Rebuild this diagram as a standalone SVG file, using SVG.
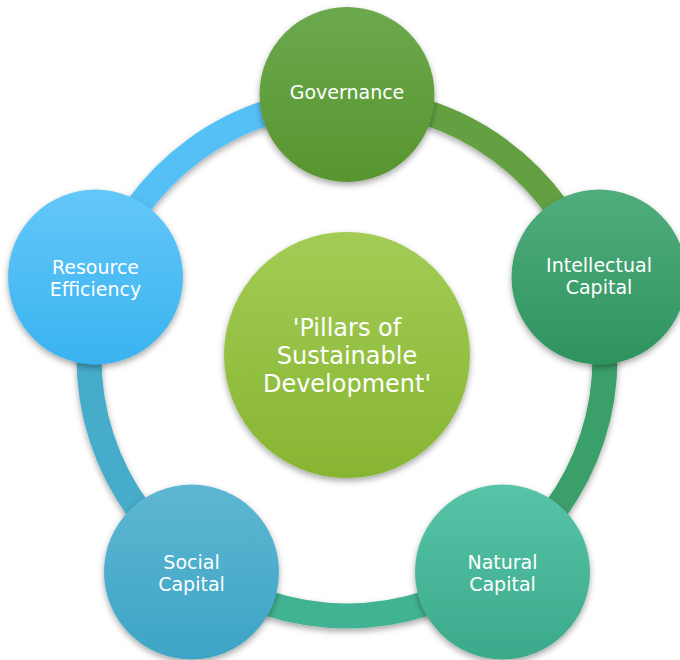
<svg xmlns="http://www.w3.org/2000/svg" width="680" height="660" viewBox="0 0 680 660">
<style>
.lbl{font-family:"DejaVu Sans","Liberation Sans",sans-serif;font-size:19px;fill:#ffffff;text-anchor:middle}
.big{font-size:24px}
.arc{fill:none;stroke-width:25}
</style>
<defs>
<filter id="sh" x="-20%" y="-20%" width="140%" height="150%">
<feDropShadow dx="0" dy="3" stdDeviation="3" flood-color="#000" flood-opacity="0.35"/>
</filter>
<linearGradient id="gGov" x1="0" y1="0" x2="0" y2="1"><stop offset="0" stop-color="#6ca94e"/><stop offset="1" stop-color="#58952f"/></linearGradient>
<linearGradient id="gInt" x1="0" y1="0" x2="0" y2="1"><stop offset="0" stop-color="#50ad7c"/><stop offset="1" stop-color="#2e935f"/></linearGradient>
<linearGradient id="gNat" x1="0" y1="0" x2="0" y2="1"><stop offset="0" stop-color="#57c4a7"/><stop offset="1" stop-color="#3ca98b"/></linearGradient>
<linearGradient id="gSoc" x1="0" y1="0" x2="0" y2="1"><stop offset="0" stop-color="#5eb7d2"/><stop offset="1" stop-color="#3da4c5"/></linearGradient>
<linearGradient id="gRes" x1="0" y1="0" x2="0" y2="1"><stop offset="0" stop-color="#64c7f9"/><stop offset="1" stop-color="#39b3ef"/></linearGradient>
<linearGradient id="gCen" x1="0" y1="0" x2="0" y2="1"><stop offset="0" stop-color="#a3cc55"/><stop offset="1" stop-color="#87b532"/></linearGradient>
</defs>
<rect width="680" height="660" fill="#ffffff"/>
<g id="connectors" filter="url(#sh)">
<path class="arc" stroke="#55c0f5" d="M 101.6 278.3 A 258 258 0 0 1 347 100"/>
<path class="arc" stroke="#63a043" d="M 347 100 A 258 258 0 0 1 592.4 278.3"/>
<path class="arc" stroke="#3a9f69" d="M 592.4 278.3 A 258 258 0 0 1 498.6 566.7"/>
<path class="arc" stroke="#43b392" d="M 498.6 566.7 A 258 258 0 0 1 195.4 566.7"/>
<path class="arc" stroke="#47abca" d="M 195.4 566.7 A 258 258 0 0 1 101.6 278.3"/>
</g>
<g id="center">
<circle cx="347" cy="355" r="123" fill="url(#gCen)" filter="url(#sh)"/>
<text class="lbl big" x="347" y="336">'Pillars of</text>
<text class="lbl big" x="347" y="364">Sustainable</text>
<text class="lbl big" x="347" y="392">Development'</text>
</g>
<g id="governance">
<circle cx="347" cy="94.5" r="87.5" fill="url(#gGov)" filter="url(#sh)"/>
<text class="lbl" x="347" y="99">Governance</text>
</g>
<g id="intellectual">
<circle cx="599" cy="277" r="87.5" fill="url(#gInt)" filter="url(#sh)"/>
<text class="lbl" x="599" y="272">Intellectual</text>
<text class="lbl" x="599" y="294">Capital</text>
</g>
<g id="natural">
<circle cx="502.5" cy="572" r="87.5" fill="url(#gNat)" filter="url(#sh)"/>
<text class="lbl" x="502.5" y="569">Natural</text>
<text class="lbl" x="502.5" y="591">Capital</text>
</g>
<g id="social">
<circle cx="191.5" cy="572" r="87.5" fill="url(#gSoc)" filter="url(#sh)"/>
<text class="lbl" x="191.5" y="569">Social</text>
<text class="lbl" x="191.5" y="591">Capital</text>
</g>
<g id="resource">
<circle cx="95.5" cy="277" r="87.5" fill="url(#gRes)" filter="url(#sh)"/>
<text class="lbl" x="95.5" y="273.5">Resource</text>
<text class="lbl" x="95.5" y="295.5">Efficiency</text>
</g>
</svg>
